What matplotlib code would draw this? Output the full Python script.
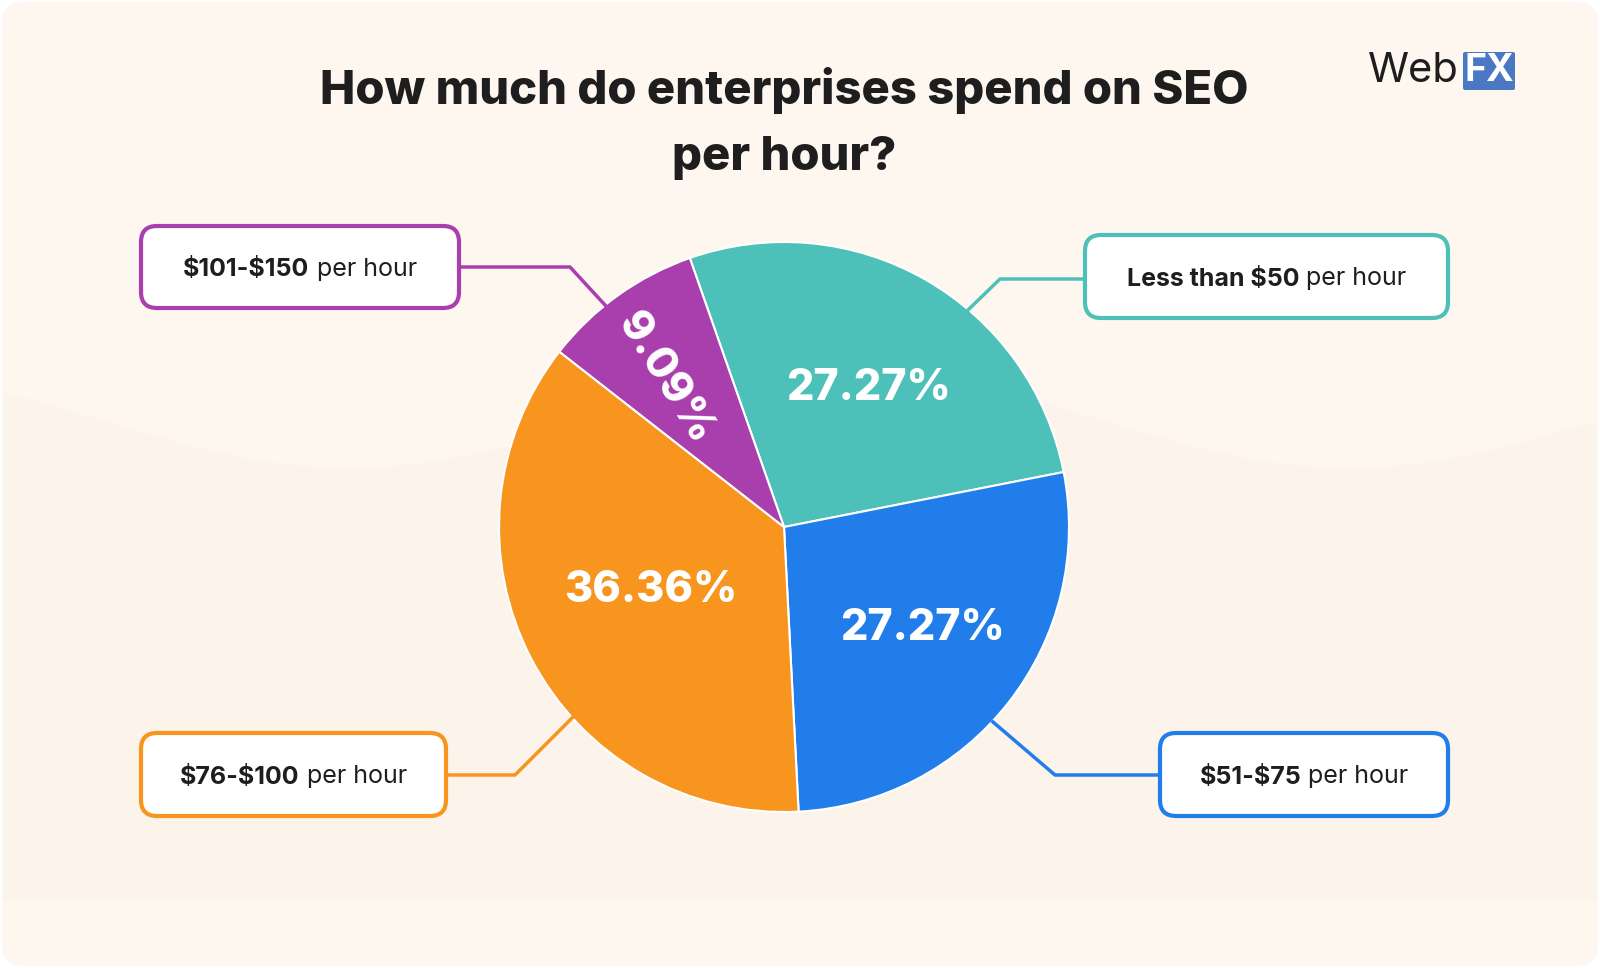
import matplotlib
matplotlib.use("Agg")
import matplotlib.pyplot as plt
from matplotlib.patches import FancyBboxPatch, Polygon
import numpy as np

categories = ["Less than \\$50", "\\$51-\\$75", "\\$76-\\$100", "\\$101-\\$150"]
values = [27.27, 27.27, 36.36, 9.09]
pct_labels = ["27.27%", "27.27%", "36.36%", "9.09%"]
colors = ["#4dc0b9", "#207de9", "#f7951f", "#a93fac"]

H = 968
fig = plt.figure(figsize=(16, 9.68), dpi=100)
ax = fig.add_axes([0, 0, 1, 1])
ax.set_xlim(0, 1600); ax.set_ylim(0, H); ax.set_aspect("equal"); ax.axis("off")
fig.patch.set_facecolor("white")

def Y(y): return H - y

ax.add_patch(FancyBboxPatch((2, 2), 1596, H - 4, boxstyle="round,pad=0,rounding_size=22",
                            fc="#fdf7f0", ec="none", zorder=0))
# subtle wave
xs = np.linspace(4, 1596, 200)
wave = 420 + 48*np.sin((xs - 100)/500*np.pi)
poly = np.column_stack([np.r_[xs, xs[::-1]], np.r_[[Y(w) for w in wave], [Y(900)]*len(xs)]])
ax.add_patch(Polygon(poly, closed=True, fc="#fcf3ea", ec="none", zorder=0.5))

ax.text(784, Y(90), "How much do enterprises spend on SEO", ha="center", va="center",
        fontsize=34, fontweight="heavy", family="Inter", color="#1e1e1e")
ax.text(784, Y(158), "per hour?", ha="center", va="center",
        fontsize=34, fontweight="heavy", family="Inter", color="#1e1e1e")

# logo
ax.text(1368, Y(71), "Web", ha="left", va="center", fontsize=30, family="Inter", color="#1e1e1e")
ax.add_patch(FancyBboxPatch((1463, Y(90)), 52, 38, boxstyle="round,pad=0,rounding_size=2",
                            fc="#4a78c2", ec="none"))
ax.text(1489, Y(71), "FX", ha="center", va="center", fontsize=27, fontweight="bold",
        family="Inter", color="white")

cx, cy, R = 784, Y(527), 285
wedges, _ = ax.pie(values, colors=colors, startangle=109.3, counterclock=False,
                   center=(cx, cy), radius=R, frame=True,
                   wedgeprops=dict(edgecolor="white", linewidth=1.5))
ax.set_xlim(0, 1600); ax.set_ylim(0, H); ax.axis("off")

pos = [(868, 388, 0), (923, 628, 0), (651, 591, 0), (665, 378, -58)]
for (x, y, r), lab in zip(pos, pct_labels):
    ax.text(x, Y(y), lab, ha="center", va="center", rotation=r, fontsize=31,
            fontweight="heavy", family="Inter", color="white")

boxes = [  # x0,y0,x1,y1 (pixels), connector points
    (1085, 235, 1448, 318, [(1085, 279), (1000, 279), (968, 310)]),
    (1160, 733, 1448, 816, [(1160, 775), (1055, 775), (993, 722)]),
    (141, 733, 446, 816, [(446, 775), (515, 775), (572, 718)]),
    (141, 226, 459, 308, [(459, 267), (570, 267), (605, 305)]),
]
fig.canvas.draw()
rend = fig.canvas.get_renderer()
for (x0, y0, x1, y1, pts), cat, col in zip(boxes, categories, colors):
    ax.plot([p[0] for p in pts], [Y(p[1]) for p in pts], color=col, lw=2.5, zorder=1)
    ax.add_patch(FancyBboxPatch((x0, Y(y1)), x1 - x0, y1 - y0,
                                boxstyle="round,pad=0,rounding_size=16",
                                fc="white", ec=col, lw=3, zorder=3))
    t1 = ax.text(0, 0, cat, fontsize=18, fontweight="bold", family="Inter", color="#1e1e1e")
    t2 = ax.text(0, 0, " per hour", fontsize=18, family="Inter", color="#1e1e1e")
    w1 = t1.get_window_extent(rend).width
    w2 = t2.get_window_extent(rend).width
    sx = (x0 + x1) / 2 - (w1 + w2) / 2
    ym = Y((y0 + y1) / 2)
    for t, xx in ((t1, sx), (t2, sx + w1)):
        t.set_position((xx, ym)); t.set_va("center_baseline"); t.set_ha("left"); t.set_zorder(4)

fig.savefig("out.png", dpi=100, facecolor="white")
